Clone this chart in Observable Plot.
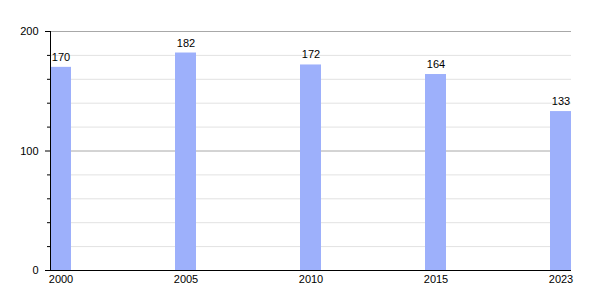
<!DOCTYPE html>
<html>
<head>
<meta charset="utf-8">
<script src="https://cdn.jsdelivr.net/npm/d3@7"></script>
<script src="https://cdn.jsdelivr.net/npm/@observablehq/plot@0.6"></script>
<style>
  html, body { margin: 0; padding: 0; background: #fff; }
  #chart svg { display: block; }
</style>
</head>
<body>
<div id="chart"></div>
<script>
const years = ["2000", "2005", "2010", "2015", "2023"];
const values = [170, 182, 172, 164, 133];
const majorTicks = [0, 100, 200];
const minorTicks = [20, 40, 60, 80, 120, 140, 160, 180];

const data = years.map((year, i) => ({year, value: values[i]}));

const chart = Plot.plot({
  width: 600,
  height: 300,
  marginLeft: 50,
  marginRight: 29,
  marginTop: 31,
  marginBottom: 30,
  style: {fontFamily: "'Liberation Sans', Arial, sans-serif", fontSize: "11px", background: "#fff", color: "#000"},
  x: {domain: years, paddingInner: 0.832, paddingOuter: 0, align: 0},
  y: {domain: [0, 200]},
  marks: [
    Plot.ruleY(minorTicks, {stroke: "#e2e2e2"}),
    Plot.ruleY([100, 200], {stroke: "#a8a8a8"}),
    Plot.barY(data, {x: "year", y: "value", fill: "#9db0fb"}),
    Plot.text(data, {x: "year", y: "value", text: d => String(d.value), dy: -10, fill: "#000"}),
    Plot.ruleY([0], {stroke: "#000"}),
    Plot.frame({anchor: "left", stroke: "#000"}),
    Plot.axisY({ticks: majorTicks, tickSize: 5, tickPadding: 7, label: null, stroke: "#000"}),
    Plot.axisY({ticks: minorTicks, tickSize: 3, text: null, label: null, stroke: "#000"}),
    Plot.axisX({tickSize: 0, tickPadding: 5, label: null})
  ]
});
document.getElementById("chart").appendChild(chart);
</script>
</body>
</html>
